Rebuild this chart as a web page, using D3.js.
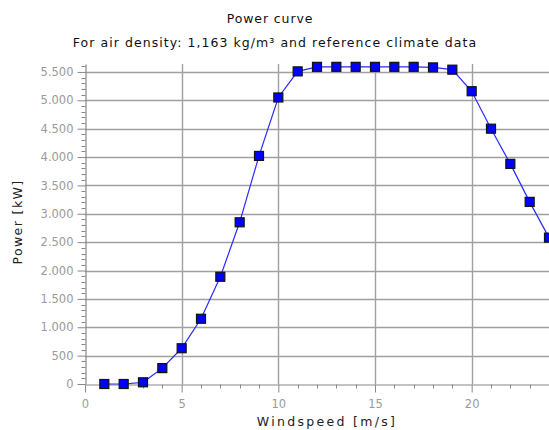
<!DOCTYPE html>
<html>
<head>
<meta charset="utf-8">
<script src="https://cdn.jsdelivr.net/npm/d3@7/dist/d3.min.js"></script>
<style>
  html, body { margin: 0; padding: 0; background: #fff; }
  svg { display: block; }
  text { font-family: Tahoma, "DejaVu Sans", Verdana, sans-serif; }
</style>
</head>
<body>
<script>
// Power curve of a wind turbine: power output per wind speed bin
const windSpeeds = [1, 2, 3, 4, 5, 6, 7, 8, 9, 10, 11, 12, 13, 14, 15, 16, 17, 18, 19, 20, 21, 22, 23, 24];
const powerKW    = [0, 0, 30, 280, 630, 1150, 1890, 2850, 4020, 5050, 5510, 5590, 5590, 5590, 5590, 5590, 5590, 5580, 5540, 5160, 4500, 3880, 3210, 2580];
const xTickValues = [0, 5, 10, 15, 20];
const yTickValues = [0, 500, 1000, 1500, 2000, 2500, 3000, 3500, 4000, 4500, 5000, 5500];
const titleLines = ["Power curve", "For air density: 1,163 kg/m\u00B3 and reference climate data"];
const xLabel = "Windspeed [m/s]";
const yLabel = "Power [kW]";

const W = 549, H = 430;
const plotLeft = 85, plotRight = 549, plotTop = 64, plotBottom = 384;

const svg = d3.select("body").append("svg").attr("width", W).attr("height", H);

const x = d3.scaleLinear().domain([0, 24]).range([plotLeft, plotRight]);
const y = d3.scaleLinear().domain([0, 5640]).range([plotBottom, plotTop]);

const fmt = v => d3.format(",")(v).replace(/,/g, ".");

// grid lines
const grid = svg.append("g").attr("stroke", "#a0a0a0").attr("stroke-width", 1.4);
grid.selectAll("line.h").data(yTickValues.filter(v => v > 0)).join("line")
  .attr("x1", plotLeft).attr("x2", plotRight)
  .attr("y1", d => Math.round(y(d)) + 0.5).attr("y2", d => Math.round(y(d)) + 0.5);
grid.selectAll("line.v").data(xTickValues.filter(v => v > 0)).join("line")
  .attr("y1", plotTop).attr("y2", plotBottom)
  .attr("x1", d => Math.round(x(d)) + 0.5).attr("x2", d => Math.round(x(d)) + 0.5);

// minor ticks
const minorY = d3.range(0, 5700, 100).filter(v => v % 500 !== 0);
const minorX = d3.range(0, 25, 1).filter(v => v % 5 !== 0);

const yAxis = svg.append("g").attr("transform", `translate(${plotLeft + 0.5},0)`)
  .call(d3.axisLeft(y).tickValues(yTickValues).tickFormat(fmt).tickSize(8).tickPadding(4).tickSizeOuter(0));
yAxis.append("g").selectAll("line").data(minorY).join("line")
  .attr("x1", -4).attr("x2", 0)
  .attr("y1", d => Math.round(y(d)) + 0.5).attr("y2", d => Math.round(y(d)) + 0.5)
  .attr("stroke", "#888");

const xAxis = svg.append("g").attr("transform", `translate(0,${plotBottom + 0.5})`)
  .call(d3.axisBottom(x).tickValues(xTickValues).tickSize(8).tickPadding(7).tickSizeOuter(0));
xAxis.append("g").selectAll("line").data(minorX).join("line")
  .attr("y1", 0).attr("y2", 4)
  .attr("x1", d => Math.round(x(d)) + 0.5).attr("x2", d => Math.round(x(d)) + 0.5)
  .attr("stroke", "#888");

[yAxis, xAxis].forEach(a => {
  a.select(".domain").attr("stroke", "#888").attr("stroke-width", 1.2);
  a.selectAll(".tick line").attr("stroke", "#888");
  a.selectAll(".tick text").attr("fill", "#9a9a9a").attr("font-size", 11.5)
    .attr("font-family", "Tahoma, 'DejaVu Sans', sans-serif");
});

// the curve
const plot = svg.append("g");
plot.append("path")
  .datum(windSpeeds.map((w, i) => [w, powerKW[i]]))
  .attr("fill", "none").attr("stroke", "#2a2aff").attr("stroke-width", 1.2)
  .attr("d", d3.line().x(d => x(d[0])).y(d => y(d[1])));

const s = 9;
plot.selectAll("rect").data(windSpeeds.map((w, i) => [w, powerKW[i]])).join("rect")
  .attr("x", d => x(d[0]) - s / 2).attr("y", d => y(d[1]) - s / 2)
  .attr("width", s).attr("height", s)
  .attr("fill", "#0000ff").attr("stroke", "#111").attr("stroke-width", 1.2);

// titles
svg.append("text").attr("x", 270).attr("y", 23).attr("text-anchor", "middle")
  .attr("font-size", 12.5).attr("letter-spacing", 0.9).attr("fill", "#111").text(titleLines[0]);
svg.append("text").attr("x", 275).attr("y", 47).attr("text-anchor", "middle")
  .attr("font-size", 12.5).attr("letter-spacing", 1.05).attr("fill", "#111").text(titleLines[1]);

// axis titles
svg.append("text").attr("x", 327).attr("y", 426).attr("text-anchor", "middle")
  .attr("font-size", 12.5).attr("letter-spacing", 2.3).attr("fill", "#222").text(xLabel);
svg.append("text").attr("transform", "translate(22,222) rotate(-90)").attr("text-anchor", "middle")
  .attr("font-size", 12.5).attr("letter-spacing", 1.4).attr("fill", "#222").text(yLabel);
</script>
</body>
</html>
